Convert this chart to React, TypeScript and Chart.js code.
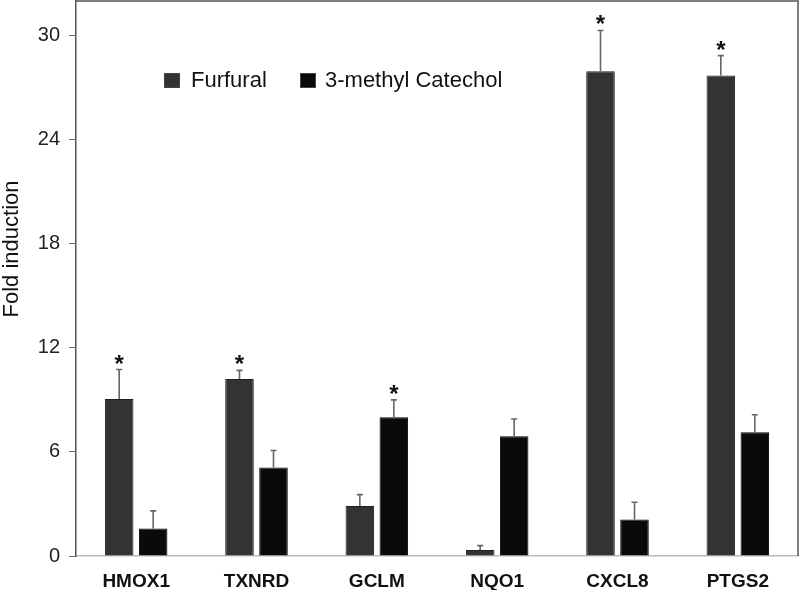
import React, { useEffect, useRef } from "react";
import { Chart, registerables } from "chart.js";

Chart.register(...registerables);

const categories = ["HMOX1", "TXNRD", "GCLM", "NQO1", "CXCL8", "PTGS2"];
const furfural = [9.05, 10.2, 2.88, 0.35, 27.95, 27.7];
const furfuralErr = [1.7, 0.5, 0.66, 0.25, 2.35, 1.15];
const furfuralSig = [true, true, false, false, true, true];
const methylCatechol = [1.58, 5.1, 8.0, 6.9, 2.1, 7.14];
const methylCatecholErr = [1.02, 0.98, 1.0, 1.0, 1.0, 1.0];
const methylCatecholSig = [false, false, true, false, false, false];
const yTicks = [0, 6, 12, 18, 24, 30];
const yTitle = "Fold induction";
const seriesNames = ["Furfural", "3-methyl Catechol"];

const errs = [furfuralErr, methylCatecholErr];
const sigs = [furfuralSig, methylCatecholSig];

const FONT = "'Liberation Sans', Arial, sans-serif";

const extrasPlugin = {
  id: "extras",
  afterDatasetsDraw(chart: any) {
    const ctx = chart.ctx;
    const y = chart.scales.y;
    const area = chart.chartArea;
    ctx.save();
    // error bars and asterisks
    chart.data.datasets.forEach((ds: any, di: number) => {
      const meta = chart.getDatasetMeta(di);
      meta.data.forEach((el: any, i: number) => {
        const v = ds.data[i];
        const top = y.getPixelForValue(v + errs[di][i]);
        ctx.strokeStyle = "#666";
        ctx.lineWidth = 1.6;
        ctx.beginPath();
        ctx.moveTo(el.x, el.y);
        ctx.lineTo(el.x, top);
        ctx.moveTo(el.x - 3, top);
        ctx.lineTo(el.x + 3, top);
        ctx.stroke();
        if (sigs[di][i]) {
          ctx.fillStyle = "#111";
          ctx.font = `bold 24px ${FONT}`;
          ctx.textAlign = "center";
          ctx.textBaseline = "alphabetic";
          ctx.fillText("*", el.x, top + 2);
        }
      });
    });
    // frame top and right
    ctx.strokeStyle = "#555";
    ctx.lineWidth = 1.5;
    ctx.beginPath();
    ctx.moveTo(area.left, area.top);
    ctx.lineTo(area.right, area.top);
    ctx.lineTo(area.right, area.bottom);
    ctx.stroke();
    // legend
    const colors = chart.data.datasets.map((d: any) => d.backgroundColor);
    const items = [
      { x: 164, tx: 191 },
      { x: 300, tx: 325 },
    ];
    ctx.font = `22px ${FONT}`;
    ctx.textAlign = "left";
    ctx.textBaseline = "alphabetic";
    items.forEach((it, k) => {
      ctx.fillStyle = colors[k];
      ctx.fillRect(it.x, 73, 16, 15);
      ctx.strokeStyle = "#444";
      ctx.lineWidth = 1;
      ctx.strokeRect(it.x + 0.5, 73.5, 15, 14);
      ctx.fillStyle = "#111";
      ctx.fillText(seriesNames[k], it.tx, 87);
    });
    // y title
    ctx.save();
    ctx.translate(18, 249);
    ctx.rotate(-Math.PI / 2);
    ctx.textAlign = "center";
    ctx.textBaseline = "alphabetic";
    ctx.fillStyle = "#111";
    ctx.font = `22px ${FONT}`;
    ctx.fillText(yTitle, 0, 0);
    ctx.restore();
    ctx.restore();
  },
};

export default function App() {
  const ref = useRef<HTMLCanvasElement>(null);
  useEffect(() => {
    document.body.style.margin = "0";
    const chart = new Chart(ref.current!, {
      type: "bar",
      data: {
        labels: categories,
        datasets: [
          {
            label: seriesNames[0],
            data: furfural,
            backgroundColor: "#333333",
            borderColor: "#1e1e1e",
            borderWidth: 1,
            categoryPercentage: 0.565,
            barPercentage: 0.84,
          },
          {
            label: seriesNames[1],
            data: methylCatechol,
            backgroundColor: "#0a0a0a",
            borderColor: "#000",
            borderWidth: 1,
            categoryPercentage: 0.565,
            barPercentage: 0.84,
          },
        ],
      },
      options: {
        responsive: false,
        animation: false,
        layout: { padding: { top: 1, right: 2, left: 0, bottom: 0 } },
        plugins: {
          legend: { display: false },
          tooltip: { enabled: false },
        },
        scales: {
          x: {
            grid: { display: false, drawTicks: false },
            border: { color: "#bbb", width: 1.5 },
            ticks: {
              color: "#111",
              font: { family: FONT, size: 19, weight: "bold" },
              padding: 14,
            },
            afterFit: (s: any) => {
              s.height = 34;
              s.paddingLeft = 0;
              s.paddingRight = 0;
            },
          },
          y: {
            min: 0,
            max: 32,
            afterBuildTicks: (s: any) => {
              s.ticks = yTicks.map((v) => ({ value: v }));
            },
            grid: { drawOnChartArea: false, tickLength: 7, color: "#666" },
            border: { color: "#555", width: 1.5 },
            ticks: {
              color: "#222",
              font: { family: FONT, size: 20 },
              padding: 9,
            },
            afterFit: (s: any) => {
              s.width = 76;
              s.paddingTop = 0;
              s.paddingBottom = 0;
            },
          },
        },
      },
      plugins: [extrasPlugin],
    });
    return () => chart.destroy();
  }, []);
  return <canvas ref={ref} width={800} height={590} />;
}
